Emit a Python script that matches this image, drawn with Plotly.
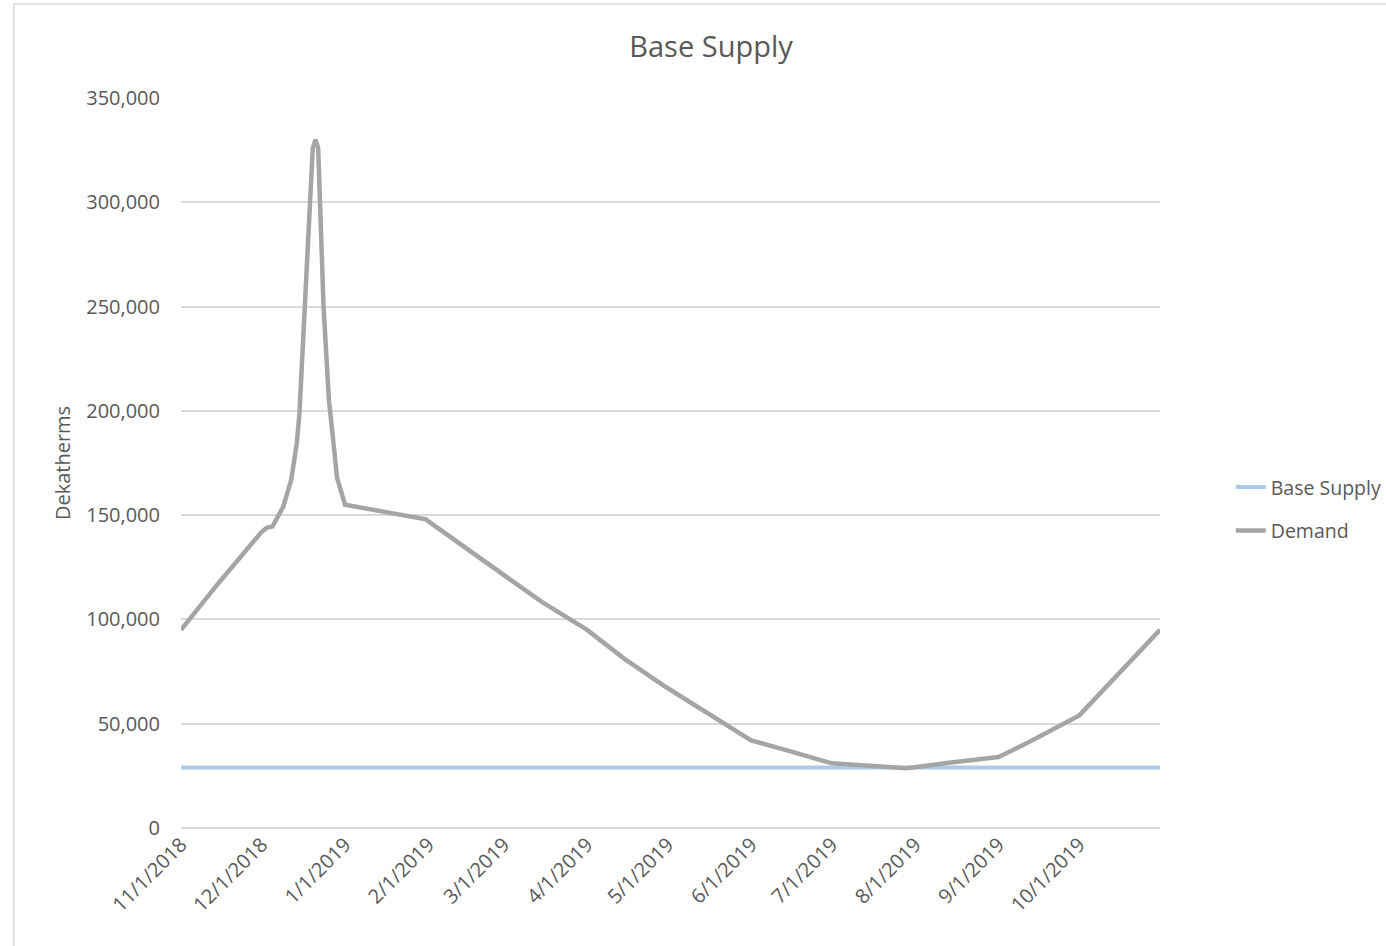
import plotly.graph_objects as go

# Daily demand readings (dekatherms) for the Nov 2018 - Oct 2019 gas year
demand_dates = [
    "2018-11-01", "2018-11-15", "2018-12-01", "2018-12-03", "2018-12-05",
    "2018-12-07", "2018-12-09", "2018-12-12", "2018-12-13", "2018-12-14",
    "2018-12-15", "2018-12-17", "2018-12-19", "2018-12-20", "2018-12-21",
    "2018-12-22", "2018-12-24", "2018-12-26", "2018-12-28", "2018-12-29",
    "2019-01-01", "2019-01-31", "2019-02-01", "2019-02-15", "2019-03-01",
    "2019-03-15", "2019-04-01", "2019-04-15", "2019-05-01", "2019-05-15",
    "2019-06-01", "2019-06-15", "2019-07-01", "2019-07-15", "2019-07-29",
    "2019-08-15", "2019-09-01", "2019-09-15", "2019-10-01", "2019-10-31",
]
demand_values = [
    95000, 117500, 142000, 144000, 144500,
    149000, 154000, 167000, 176000, 184000,
    198000, 250000, 301000, 326000, 330000,
    326000, 250000, 205000, 181000, 168000,
    155000, 148000, 147000, 134000, 121000,
    108500, 95000, 81000, 67000, 55500,
    42000, 37000, 31000, 29800, 28700,
    31500, 34000, 43000, 54000, 95000,
]

# Flat base supply contract level
base_supply_dates = ["2018-11-01", "2019-10-31"]
base_supply_values = [29000, 29000]

# Axis ticks
month_ticks = [
    "2018-11-01", "2018-12-01", "2019-01-01", "2019-02-01", "2019-03-01",
    "2019-04-01", "2019-05-01", "2019-06-01", "2019-07-01", "2019-08-01",
    "2019-09-01", "2019-10-01",
]
month_labels = [
    "11/1/2018", "12/1/2018", "1/1/2019", "2/1/2019", "3/1/2019",
    "4/1/2019", "5/1/2019", "6/1/2019", "7/1/2019", "8/1/2019",
    "9/1/2019", "10/1/2019",
]
y_ticks = [0, 50000, 100000, 150000, 200000, 250000, 300000, 350000]

FONT = "Open Sans"
TEXT = "#595959"
GRID = "#D9D9D9"

fig = go.Figure()
fig.add_trace(go.Scatter(
    x=base_supply_dates, y=base_supply_values, name="Base Supply",
    mode="lines", line=dict(color="#A9CBEA", width=4),
    legendgroup="a",
))
fig.add_trace(go.Scatter(
    x=demand_dates, y=demand_values, name="Demand",
    mode="lines", line=dict(color="#A5A5A5", width=4.5),
    legendgroup="b",
))

fig.update_layout(
    width=1386, height=946,
    margin=dict(l=181, r=226, t=98, b=118, autoexpand=False),
    paper_bgcolor="white", plot_bgcolor="white",
    font=dict(family=FONT, color=TEXT, size=20),
    title=dict(
        text="Base Supply", x=0.513, xref="container", xanchor="center",
        y=0.951, yref="container", yanchor="middle",
        font=dict(family=FONT, size=29, color=TEXT),
    ),
    legend=dict(
        xref="container", yref="container",
        x=0.888, xanchor="left", y=0.462, yanchor="middle",
        font=dict(family=FONT, size=19.5, color=TEXT),
        traceorder="grouped", tracegroupgap=15,
        bgcolor="rgba(0,0,0,0)", borderwidth=0,
    ),
    showlegend=True,
    shapes=[dict(
        type="rect", xref="paper", yref="paper",
        x0=-0.1707, x1=1.25, y0=-0.2, y1=1.1288,
        line=dict(color=GRID, width=1.5), layer="below",
    )],
)

fig.update_xaxes(
    type="date", range=["2018-11-01", "2019-10-31"],
    tickvals=month_ticks, ticktext=month_labels, tickangle=-45,
    showgrid=False, zeroline=False, showline=False, ticks="",
    tickfont=dict(family=FONT, size=20, color=TEXT),
)
fig.update_yaxes(
    range=[0, 350000], tickvals=y_ticks, tickformat=",",
    showgrid=True, gridcolor=GRID, gridwidth=2,
    zeroline=True, zerolinecolor=GRID, zerolinewidth=2,
    showline=False, ticks="", ticklabelstandoff=20,
    tickfont=dict(family=FONT, size=20, color=TEXT),
    title=dict(text="Dekatherms", standoff=10,
               font=dict(family=FONT, size=20, color=TEXT)),
)

fig.write_html("out.html")
